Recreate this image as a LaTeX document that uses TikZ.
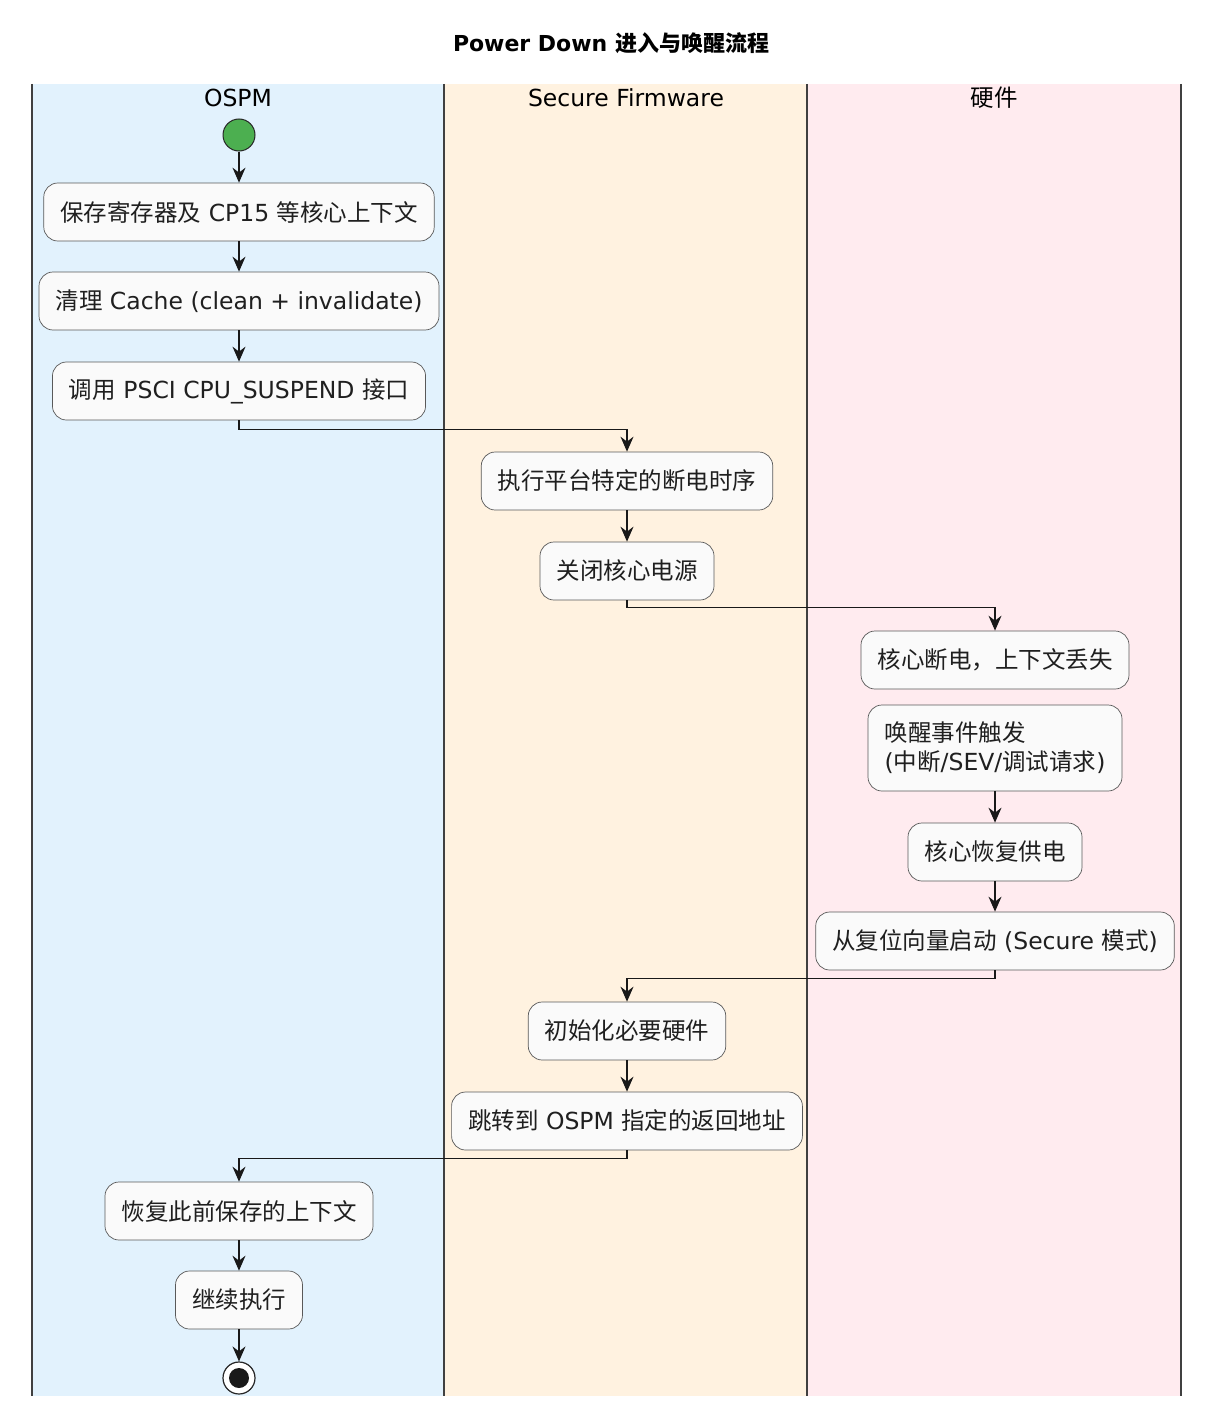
\documentclass[tikz,border=0pt]{standalone}
\usepackage{fontspec}
\setmainfont{DejaVu Sans}
\newfontfamily\cjk{Noto Sans CJK SC}
\usetikzlibrary{arrows.meta,positioning,calc}
\definecolor{laneblue}{HTML}{E2F2FD}
\definecolor{laneorange}{HTML}{FFF2E0}
\definecolor{lanepink}{HTML}{FFEBEF}
\definecolor{actfill}{HTML}{FAFAFA}
\definecolor{startgreen}{HTML}{4CAF50}
\newcommand{\zh}[1]{{\cjk #1}}
\tikzstyle{act}=[draw=black!65, fill=actfill, rounded corners=14pt,
  minimum height=58pt, inner xsep=16.5pt, line width=0.7pt, text=black!88,
  font=\fontsize{23.5}{29}\selectfont]
\tikzstyle{lanehead}=[font=\fontsize{23.5}{29}\selectfont]
\tikzstyle{flow}=[-{Stealth[length=15pt,width=13pt,inset=5pt]}, line width=1.1pt, black!90]

\begin{document}
\begin{tikzpicture}[x=1pt,y=-1pt]
  \useasboundingbox (0,0) rectangle (1222,1426);
  % swimlanes
  \fill[laneblue] (32,84) rectangle (444,1396);
  \fill[laneorange] (444,84) rectangle (807,1396);
  \fill[lanepink] (807,84) rectangle (1181,1396);
  \foreach \lx in {32,444,807,1181}
    \draw[black!75, line width=1.4pt] (\lx,84) -- (\lx,1396);
  \node[font=\bfseries\fontsize{22}{26}\selectfont] (title) at (611,43) {Power Down \zh{进入与唤醒流程}};
  \node[lanehead] (ospm) at (238,98) {OSPM};
  \node[lanehead] (sfw) at (626,98) {Secure Firmware};
  \node[lanehead] (hw) at (994,98) {\zh{硬件}};

  % OSPM
  \node[circle, draw=black!85, fill=startgreen, line width=1pt, minimum size=32pt, inner sep=0pt] (start) at (239,135) {};
  \node[act] (save) at (239,212) {\zh{保存寄存器及} CP15 \zh{等核心上下文}};
  \node[act] (clean) at (239,301) {\zh{清理} Cache (clean + invalidate)};
  \node[act] (psci) at (239,391) {\zh{调用} PSCI CPU\_SUSPEND \zh{接口}};
  % Secure Firmware
  \node[act] (seq) at (627,481) {\zh{执行平台特定的断电时序}};
  \node[act] (off) at (627,571) {\zh{关闭核心电源}};
  % hardware
  \node[act] (lost) at (995,660) {\zh{核心断电，上下文丢失}};
  \node[act, align=left, minimum height=86pt] (wake) at (995,748) {\zh{唤醒事件触发}\\(\zh{中断}/SEV/\zh{调试请求})};
  \node[act] (pwr) at (995,852) {\zh{核心恢复供电}};
  \node[act] (reset) at (995,941) {\zh{从复位向量启动} (Secure \zh{模式})};
  % back to Secure Firmware
  \node[act] (init) at (627,1031) {\zh{初始化必要硬件}};
  \node[act] (jump) at (627,1121) {\zh{跳转到} OSPM \zh{指定的返回地址}};
  % back to OSPM
  \node[act] (restore) at (239,1211) {\zh{恢复此前保存的上下文}};
  \node[act] (cont) at (239,1300) {\zh{继续执行}};
  \node[circle, draw=black!85, fill=white, line width=1.2pt, minimum size=32pt, inner sep=0pt] (stop) at (239,1378) {};
  \fill[black!90] (stop.center) circle (10pt);

  \draw[flow] (start) -- (save);
  \draw[flow] (save) -- (clean);
  \draw[flow] (clean) -- (psci);
  \draw[flow] (psci.south) -- ++(0,9) -| (seq.north);
  \draw[flow] (seq) -- (off);
  \draw[flow] (off.south) -- ++(0,7) -| (lost.north);
  \draw[flow] (wake) -- (pwr);
  \draw[flow] (pwr) -- (reset);
  \draw[flow] (reset.south) -- ++(0,8) -| (init.north);
  \draw[flow] (init) -- (jump);
  \draw[flow] (jump.south) -- ++(0,8) -| (restore.north);
  \draw[flow] (restore) -- (cont);
  \draw[flow] (cont) -- (stop);
\end{tikzpicture}
\end{document}
